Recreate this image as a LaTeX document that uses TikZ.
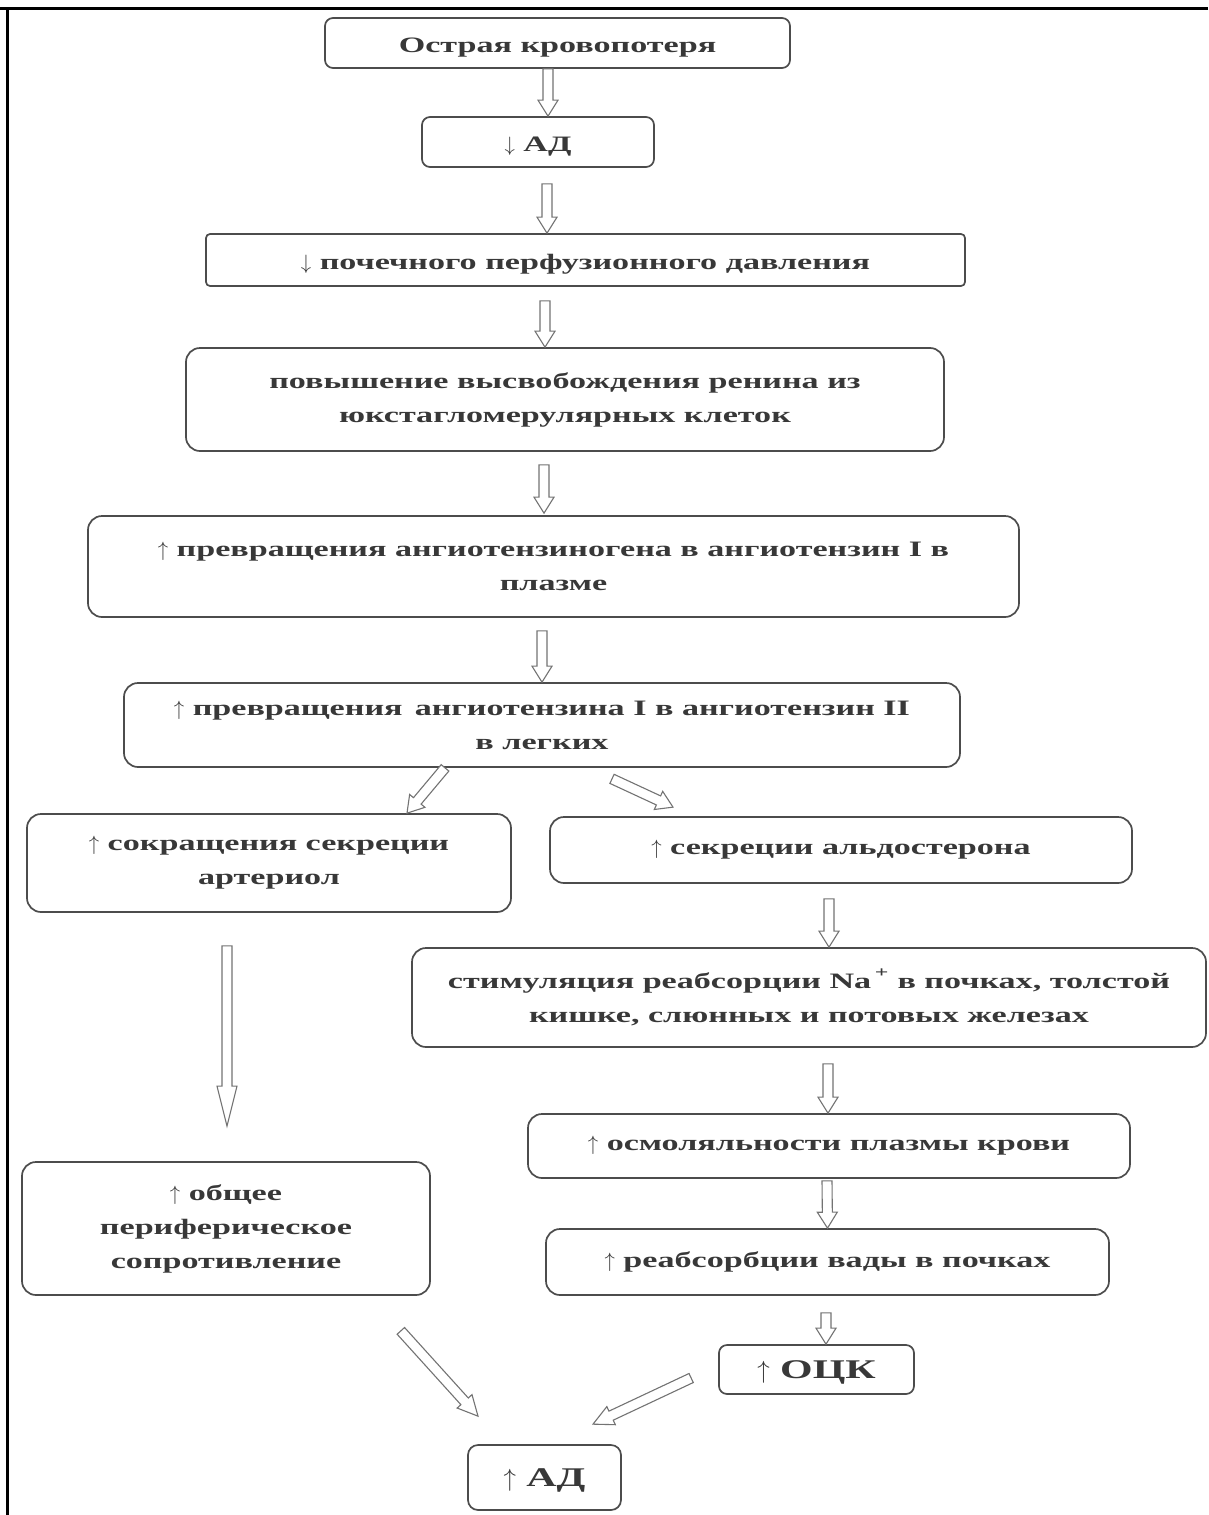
\documentclass[tikz,border=0pt]{standalone}
\usepackage{fontspec}
\setmainfont{Liberation Serif}[FakeStretch=1.55]
\usetikzlibrary{calc}

\newcommand\up{$\uparrow$}
\newcommand\dn{$\downarrow$}
\tikzset{
  box/.style={draw=black!70, line width=1.7pt, rounded corners=14pt, fill=white,
    align=center, inner sep=0pt, text=black!78,
    font=\fontsize{22}{34}\selectfont\bfseries},
  low/.style={text height=22pt, text depth=4pt},
  big/.style={font=\fontsize{27}{34}\selectfont\bfseries},
  hollow/.style={draw=black!55, line width=1.1pt, fill=white, line join=miter}
}
\newcommand\harrow[3][16]{%
  \coordinate (hA) at (#2);
  \coordinate (hB) at (#3);
  \coordinate (hH) at ($(hB)!#1pt!(hA)$);
  \draw[hollow] ($(hA)!5pt!90:(hB)$) -- ($(hH)!5pt!-90:(hA)$) -- ($(hH)!10pt!-90:(hA)$)
    -- (hB) -- ($(hH)!10pt!90:(hA)$) -- ($(hH)!5pt!90:(hA)$) -- ($(hA)!5pt!-90:(hB)$) -- cycle;}

\begin{document}
\begin{tikzpicture}[x=1pt, y=-1pt]
\useasboundingbox (0,0) rectangle (1208,1515);
\draw[line width=3pt] (0,8) -- (1208,8);
\draw[line width=3pt] (7,8) -- (7,1515);

\begin{scope}
\node[box, low, rounded corners=8pt, minimum width=465pt, minimum height=50pt] (b_loss) at (557.5,43) {Острая кровопотеря};
\node[box, low, rounded corners=8pt, minimum width=232pt, minimum height=50pt] (b_bpdown) at (538,142) {\dn\ АД};
\node[box, low, rounded corners=4pt, minimum width=759pt, minimum height=52pt] (b_perf) at (585.5,260) {\dn\ почечного перфузионного давления};
\node[box, minimum width=758pt, minimum height=103pt] (b_renin) at (565,399.5) {повышение высвобождения ренина из\\юкстагломерулярных клеток};
\node[box, minimum width=931pt, minimum height=101pt] (b_angI) at (553.5,566.5) {\up\ превращения ангиотензиногена в ангиотензин I в\\плазме};
\node[box, minimum width=836pt, minimum height=84pt] (b_angII) at (542,725) {\up\ превращения\, ангиотензина I в ангиотензин II\\в легких};
\end{scope}

\begin{scope}
\node[box, minimum width=484pt, minimum height=98pt] (b_arter) at (269,863) {\up\ сокращения секреции\\артериол};
\node[box, minimum width=408pt, minimum height=133pt] (b_tpr) at (226,1228.5) {\up\ общее\\периферическое\\сопротивление};
\node[box, minimum width=582pt, minimum height=66pt] (b_aldo) at (841,850) {\up\ секреции альдостерона};
\node[box, minimum width=794pt, minimum height=99pt] (b_na) at (809,997.5) {стимуляция реабсорции Na\,\raisebox{4pt}{\textsuperscript{+}} в почках, толстой\\кишке, слюнных и потовых железах};
\node[box, minimum width=602pt, minimum height=64pt] (b_osm) at (829,1146) {\up\ осмоляльности плазмы крови};
\node[box, minimum width=563pt, minimum height=66pt] (b_water) at (827.5,1262) {\up\ реабсорбции вады в почках};
\node[box, big, low, rounded corners=8pt, minimum width=195pt, minimum height=49pt] (b_bcv) at (816.5,1369.5) {\up\ ОЦК};
\node[box, big, low, rounded corners=10pt, minimum width=153pt, minimum height=65pt] (b_bpup) at (544.5,1477.5) {\up\ АД};
\end{scope}

\harrow{[xshift=-9.5pt]b_loss.south}{[xshift=10pt]b_bpdown.north}
\harrow{[xshift=9pt,yshift=-16pt]b_bpdown.south}{[xshift=-38.5pt]b_perf.north}
\harrow{[xshift=-40.5pt,yshift=-14pt]b_perf.south}{[xshift=-20pt]b_renin.north}
\harrow{[xshift=-21pt,yshift=-13pt]b_renin.south}{[xshift=-9.5pt,yshift=2pt]b_angI.north}
\harrow{[xshift=-11.5pt,yshift=-13pt]b_angI.south}{b_angII.north}
\harrow{[xshift=-97pt]b_angII.south}{[xshift=138pt]b_arter.north}
\harrow{[xshift=70pt,yshift=-11pt]b_angII.south}{[xshift=-168pt,yshift=9pt]b_aldo.north}
\harrow{[xshift=-12pt,yshift=-15pt]b_aldo.south}{[xshift=20pt]b_na.north}
\harrow{[xshift=19pt,yshift=-16pt]b_na.south}{[xshift=-1pt]b_osm.north}
\harrow{[xshift=-2pt,yshift=-2pt]b_osm.south}{b_water.north}
\harrow{[xshift=-1.5pt,yshift=-17pt]b_water.south}{[xshift=9.5pt]b_bcv.north}
\harrow[40]{[xshift=-42pt,yshift=-33pt]b_arter.south}{[xshift=1pt,yshift=35pt]b_tpr.north}
\harrow[20]{[xshift=-30pt,yshift=-35pt]b_tpr.south east}{[xshift=-66.5pt,yshift=28pt]b_bpup.north}
\harrow[20]{[xshift=-27pt,yshift=-8.5pt]b_bcv.west}{[xshift=48.5pt,yshift=20pt]b_bpup.north}
\end{tikzpicture}
\end{document}
